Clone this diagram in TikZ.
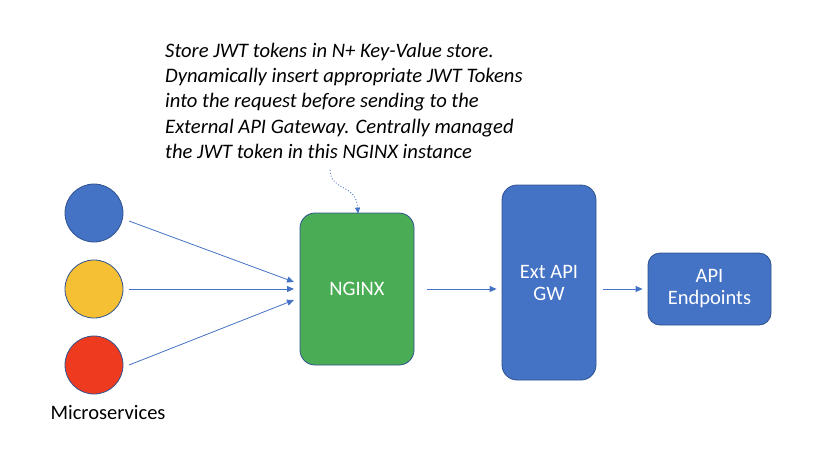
\documentclass[tikz,border=0pt]{standalone}
\usepackage{fontspec}
\setmainfont{Carlito}
\usetikzlibrary{arrows.meta}
\definecolor{oblue}{HTML}{4472C4}
\definecolor{oblueline}{HTML}{2F528F}
\definecolor{oyellow}{HTML}{F6C034}
\definecolor{ored}{HTML}{EE3B1F}
\definecolor{ogreen}{HTML}{4AAD55}
\tikzset{
  svc/.style={circle, draw=oblueline, line width=0.8pt, minimum size=58pt, inner sep=0pt},
  boxnode/.style={draw=oblueline, line width=0.8pt, rounded corners=15pt, text=white, align=center, font=\fontsize{20.5}{24}\selectfont},
  conn/.style={draw=oblue, line width=0.8pt, -{Triangle[length=7pt,width=6pt]}},
}
\begin{document}
\begin{tikzpicture}[x=1pt,y=-1pt]
\useasboundingbox (0,0) rectangle (822,467);
\node[svc, fill=oblue] (s1) at (94,213) {};
\node[svc, fill=oyellow] (s2) at (94,289) {};
\node[svc, fill=ored] (s3) at (94,365) {};
\node[font=\fontsize{20.5}{24}\selectfont, anchor=west] (ms) at (47,413) {Microservices};
\node[boxnode, fill=ogreen, minimum width=114pt, minimum height=152pt] (nginx) at (357,289) {NGINX};
\node[boxnode, fill=oblue, minimum width=94pt, minimum height=195pt] (gw) at (549,282.5) {Ext API\\[-2pt]GW};
\node[boxnode, fill=oblue, minimum width=123pt, minimum height=72pt, rounded corners=12pt] (ep) at (709.5,289) {API\\[-2pt]Endpoints};
\node[anchor=north west, align=left, inner sep=0pt, font=\fontsize{20.6}{25.2}\selectfont\itshape] (note) at (165,43)
{Store JWT tokens in N+ Key-Value store.\\
Dynamically insert appropriate JWT Tokens\\
into the request before sending to the\\
External API Gateway. Centrally managed\\
the JWT token in this NGINX instance};
\coordinate (cstart) at (330,170);
\coordinate (s1a) at (129,221);
\coordinate (s2a) at (129,289);
\coordinate (s3a) at (129,365);
\coordinate (n1) at (294,282);
\coordinate (n2) at (294,289);
\coordinate (n3) at (294,300);
\draw[conn] (s1a) -- (n1);
\draw[conn] (s2a) -- (n2);
\draw[conn] (s3a) -- (n3);
\draw[conn] ([xshift=13pt]nginx.east) -- ([xshift=-5pt]gw.west |- nginx.east);
\draw[conn] ([xshift=7pt]gw.east |- nginx.east) -- ([xshift=-5pt]ep.west);
\draw[draw=oblue, line width=0.9pt, dotted, -{Triangle[length=6pt,width=5pt]}] (cstart) .. controls (331,192) and (356,183) .. ([yshift=-1pt]nginx.north -| 358,0);
\end{tikzpicture}
\end{document}
